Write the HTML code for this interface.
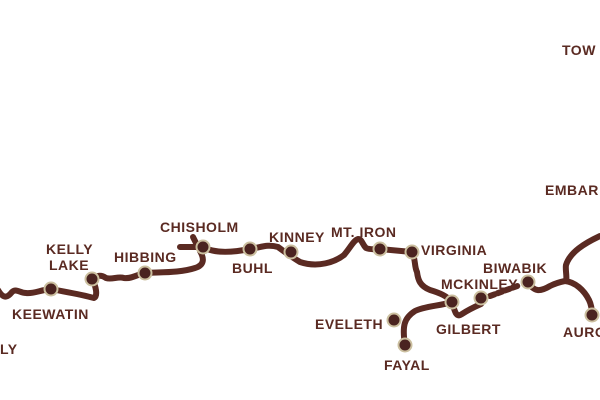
<!DOCTYPE html>
<html><head><style>
html,body{margin:0;padding:0;background:#fff;width:600px;height:400px;overflow:hidden}
svg text{font-family:"Liberation Sans",sans-serif;font-size:14px;font-weight:bold;fill:#5a2a22;letter-spacing:0.5px}
</style></head><body>
<svg width="600" height="400" viewBox="0 0 600 400">
<g fill="none" stroke="#5a2a22" stroke-width="6" stroke-linecap="round" stroke-linejoin="round">
<path d="M-2,290 C4,300 8,297 12,292 C16,288 20,293 26,293 C34,294 40,290 51,289 C60,291 80,294 94,298 C98,296 96,286 92,279 C97,276 100,274 106,278 C112,280 118,276 124,278 C132,279 138,274 145,273 C160,272 180,273 195,268 C205,265 204,258 200,251"/>
<path d="M180,247 L203,247 M193,237 L198,247"/>
<path d="M203,247 C215,254 235,252 250,249 C262,247 268,244 278,247 C285,252 290,256 300,262 C318,268 335,262 344,255 C350,248 354,240 358,239 C362,239 362,244 366,248 C370,250 376,249 380,249 L412,252"/>
<path d="M412,252 C416,260 414,266 417,272 C418,280 420,286 430,290 C440,293 447,296 452,302 C455,312 456,318 462,314 C468,310 472,308 481,304 L481,298"/>
<path d="M452,302 C440,306 425,306 415,311 C404,318 402,326 405,345"/>
<path d="M528,282 C534,292 540,292 550,286 C556,283 560,282 565,281 C568,280 565,270 566,265 C570,252 585,243 600,236"/>
<path d="M565,281 C575,282 584,290 589,300 C592,306 592,312 592,315"/>
<path d="M490,296 L520,285" stroke-dasharray="5,3"/>
</g>
<g fill="#4a2320" stroke="#cbbf9f" stroke-width="2">
<circle cx="51" cy="289" r="6.5"/><circle cx="92" cy="279" r="6.5"/><circle cx="145" cy="273" r="6.5"/>
<circle cx="203" cy="247" r="6.5"/><circle cx="250" cy="249" r="6.5"/><circle cx="291" cy="252" r="6.5"/>
<circle cx="380" cy="249" r="6.5"/><circle cx="412" cy="252" r="6.5"/><circle cx="452" cy="302" r="6.5"/>
<circle cx="481" cy="298" r="6.5"/><circle cx="528" cy="282" r="6.5"/><circle cx="592" cy="315" r="6.5"/>
<circle cx="394" cy="320" r="6.5"/><circle cx="405" cy="345" r="6.5"/>
</g>
<text x="562" y="55">TOW</text>
<text x="545" y="195">EMBAR</text>
<text x="160" y="232">CHISHOLM</text>
<text x="46" y="254">KELLY</text>
<text x="49" y="270">LAKE</text>
<text x="114" y="262">HIBBING</text>
<text x="232" y="273">BUHL</text>
<text x="269" y="242">KINNEY</text>
<text x="331" y="237">MT. IRON</text>
<text x="421" y="255">VIRGINIA</text>
<text x="483" y="273">BIWABIK</text>
<text x="441" y="289">MCKINLEY</text>
<text x="12" y="319">KEEWATIN</text>
<text x="315" y="329">EVELETH</text>
<text x="436" y="334">GILBERT</text>
<text x="563" y="337">AURO</text>
<text x="384" y="370">FAYAL</text>
<text x="0" y="354">LY</text>
</svg>
</body></html>
